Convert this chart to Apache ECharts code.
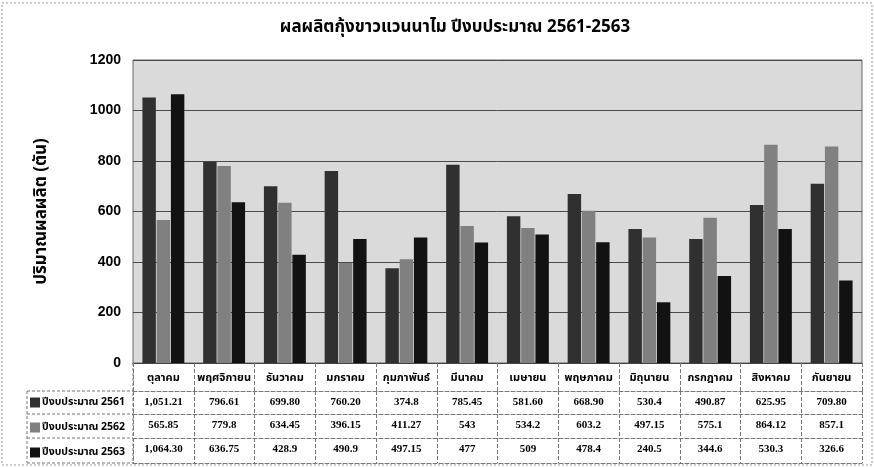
<!DOCTYPE html>
<html><head><meta charset="utf-8">
<script src="https://cdn.jsdelivr.net/npm/echarts@6/dist/echarts.min.js"></script>
<style>html,body{margin:0;padding:0;background:#fff}#c{width:874px;height:468px}</style>
</head><body><div id="c"></div>
<script>
const months = ['ตุลาคม','พฤศจิกายน','ธันวาคม','มกราคม','กุมภาพันธ์','มีนาคม','เมษายน','พฤษภาคม','มิถุนายน','กรกฎาคม','สิงหาคม','กันยายน'];
const seriesNames = ['ปีงบประมาณ 2561','ปีงบประมาณ 2562','ปีงบประมาณ 2563'];
const table2561 = ['1,051.21','796.61','699.80','760.20','374.8','785.45','581.60','668.90','530.4','490.87','625.95','709.80'];
const table2562 = ['565.85','779.8','634.45','396.15','411.27','543','534.2','603.2','497.15','575.1','864.12','857.1'];
const table2563 = ['1,064.30','636.75','428.9','490.9','497.15','477','509','478.4','240.5','344.6','530.3','326.6'];
const yTicks = [0,200,400,600,800,1000,1200];

const toNum = arr => arr.map(s => parseFloat(s.replace(/,/g,'')));
const tables = [table2561, table2562, table2563];
const colors = ['#303030','#808080','#121212'];
const thai = "'Noto Sans Thai','Noto Sans','Liberation Serif',serif";
const serif = "'Liberation Serif','DejaVu Serif',serif";

const chart = echarts.init(document.getElementById('c'));
const dashLine = {color:'#777',type:'dashed',width:1};
const rowOffsets = [0,28,51,75,100];
const rowHeights = [28,23,24,25,0];
const xAxes = rowOffsets.map((off,i)=>({
  type:'category',
  position:'bottom',
  gridIndex:0,
  offset:off,
  data: i===0 ? months : (i<4 ? tables[i-1] : months),
  axisLine:{show:true,lineStyle: i===0 ? {color:'#444',width:1} : dashLine},
  axisTick:{show:i<4,length:rowHeights[i],alignWithLabel:false,lineStyle:dashLine},
  axisLabel:{show:i<4,interval:0,margin: i===0?10:6,color:'#000',
    fontFamily: i===0?thai:serif,fontWeight:'bold',fontSize:11}
}));

chart.setOption({
  animation:false,
  title:{text:'ผลผลิตกุ้งขาวแวนนาไม ปีงบประมาณ 2561-2563',left:450,top:15,textAlign:'center',
    textStyle:{fontFamily:thai,fontWeight:'bold',fontSize:17,color:'#000'}},
  legend:{orient:'vertical',left:30,top:397,padding:0,height:80,itemWidth:10,itemHeight:10,itemGap:14,
    icon:'rect',data:seriesNames,
    textStyle:{fontFamily:thai,fontWeight:'bold',fontSize:10.5,color:'#000',padding:[0,0,0,-3]}},
  grid:{left:133,right:12,top:60,bottom:105,show:true,backgroundColor:'#dadada',borderColor:'#666',borderWidth:1},
  xAxis:xAxes,
  yAxis:{type:'value',min:yTicks[0],max:yTicks[yTicks.length-1],interval:200,
    name:'ปริมาณผลผลิต (ตัน)',nameLocation:'middle',nameGap:82,nameRotate:90,
    nameTextStyle:{fontFamily:thai,fontWeight:'bold',fontSize:17,color:'#000'},
    axisLine:{show:false},axisTick:{show:false},
    axisLabel:{margin:12,color:'#000',fontFamily:"'Liberation Sans',Arial,sans-serif",fontWeight:'bold',fontSize:14,
      formatter:v=>String(v)},
    splitLine:{show:true,lineStyle:{color:'#4a4a4a',width:1}}},
  series:seriesNames.map((n,i)=>({
    name:n,type:'bar',xAxisIndex:0,data:toNum(tables[i]),
    barGap:'6%',barCategoryGap:'31%',
    itemStyle:{color:colors[i]}
  })),
  graphic:[
    {type:'rect',shape:{x:2,y:3,width:870,height:462},style:{fill:'none',stroke:'#999',lineDash:[2,2],lineWidth:1},silent:true},
    {type:'line',shape:{x1:27,y1:391,x2:133,y2:391},style:{stroke:'#777',lineDash:[3,2]}},
    {type:'line',shape:{x1:27,y1:414,x2:133,y2:414},style:{stroke:'#777',lineDash:[3,2]}},
    {type:'line',shape:{x1:27,y1:438,x2:133,y2:438},style:{stroke:'#777',lineDash:[3,2]}},
    {type:'line',shape:{x1:27,y1:463,x2:133,y2:463},style:{stroke:'#777',lineDash:[3,2]}},
    {type:'line',shape:{x1:27,y1:391,x2:27,y2:463},style:{stroke:'#777',lineDash:[3,2]}},
    {type:'line',shape:{x1:133,y1:363,x2:133,y2:463},style:{stroke:'#777',lineDash:[3,2]}}
  ]
});
</script></body></html>
